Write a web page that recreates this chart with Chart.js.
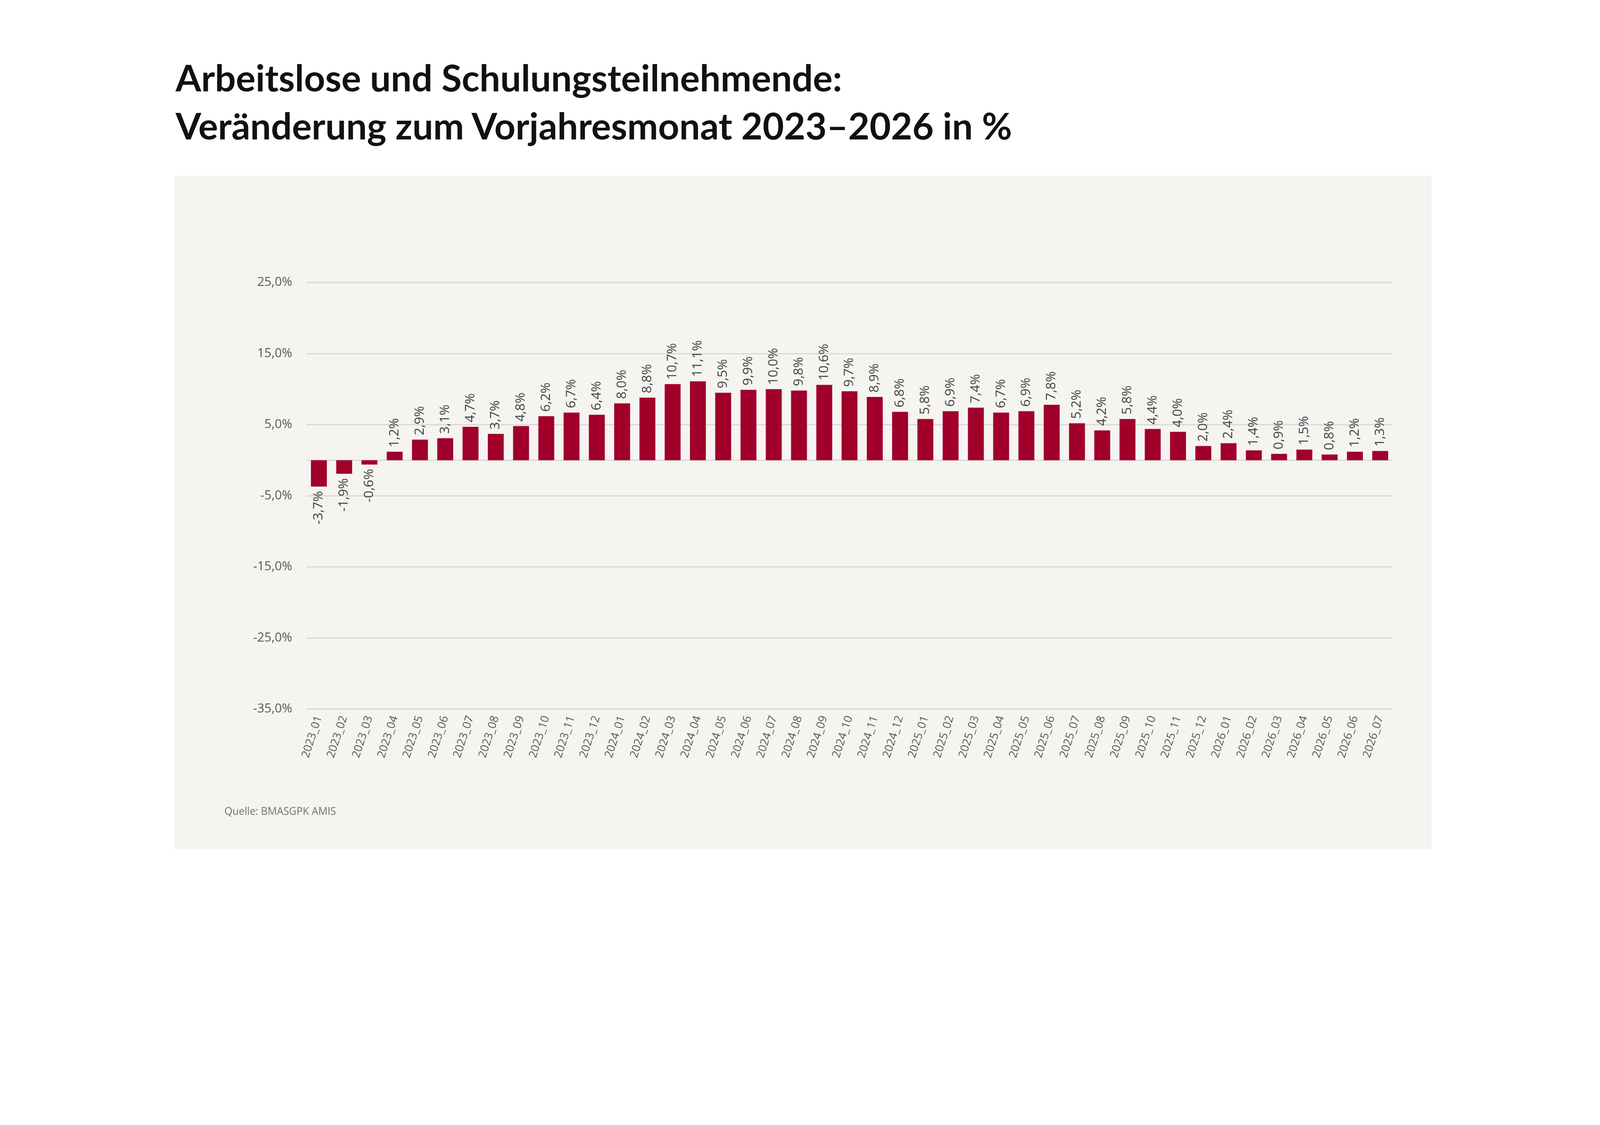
<!DOCTYPE html>
<html>
<head>
<meta charset="utf-8">
<script src="https://cdn.jsdelivr.net/npm/chart.js@4"></script>
<style>
  body { margin: 0; background: #fff; overflow: hidden; }
  #page { position: absolute; left: 0; top: 0; width: 5120px; height: 2880px; transform-origin: 0 0; }
  #title { position: absolute; left: 562px; top: 170px; font-family: Lato, sans-serif; font-weight: 700; font-size: 118px; line-height: 154px; color: #111; }
  #panel { position: absolute; left: 558px; top: 562px; width: 4023px; height: 2154px; background: #f5f4f1; }
  #wrap { position: absolute; left: 0; top: 0; width: 4023px; height: 2154px; }
  #source { position: absolute; left: 160px; top: 2010px; font-family: "Open Sans", sans-serif; font-size: 33px; color: #707070; }
</style>
</head>
<body>
<div id="page">
<div id="title">Arbeitslose und Schulungsteilnehmende:<br>Veränderung zum Vorjahresmonat 2023–2026 in %</div>
<div id="panel">
  <div id="wrap"><canvas id="chart"></canvas></div>
  <div id="source">Quelle: BMASGPK AMIS</div>
</div>
</div>
<script>
// fit the 5120-wide layout to whatever CSS viewport we get
document.getElementById("page").style.transform = "scale(" + (window.innerWidth / 5120) + ")";

const months = ["2023_01","2023_02","2023_03","2023_04","2023_05","2023_06","2023_07","2023_08","2023_09","2023_10","2023_11","2023_12",
  "2024_01","2024_02","2024_03","2024_04","2024_05","2024_06","2024_07","2024_08","2024_09","2024_10","2024_11","2024_12",
  "2025_01","2025_02","2025_03","2025_04","2025_05","2025_06","2025_07","2025_08","2025_09","2025_10","2025_11","2025_12",
  "2026_01","2026_02","2026_03","2026_04","2026_05","2026_06","2026_07"];
const changes = [-3.7,-1.9,-0.6,1.2,2.9,3.1,4.7,3.7,4.8,6.2,6.7,6.4,
  8.0,8.8,10.7,11.1,9.5,9.9,10.0,9.8,10.6,9.7,8.9,6.8,
  5.8,6.9,7.4,6.7,6.9,7.8,5.2,4.2,5.8,4.4,4.0,2.0,
  2.4,1.4,0.9,1.5,0.8,1.2,1.3];
const yTicks = [-35,-25,-15,-5,5,15,25];

function fmt(v, d) { return v.toFixed(d).replace(".", ",") + "%"; }

const barLabels = {
  id: "barLabels",
  afterDatasetsDraw(chart) {
    const ctx = chart.ctx;
    const meta = chart.getDatasetMeta(0);
    ctx.save();
    ctx.font = "42px 'Open Sans', sans-serif";
    ctx.fillStyle = "#404040";
    ctx.textBaseline = "middle";
    meta.data.forEach((bar, i) => {
      const v = changes[i];
      ctx.save();
      ctx.translate(bar.x, bar.y + (v < 0 ? 14 : -14));
      ctx.rotate(-Math.PI / 2);
      ctx.textAlign = v < 0 ? "right" : "left";
      ctx.fillText(fmt(v, 1), 0, 0);
      ctx.restore();
    });
    ctx.restore();
  }
};

new Chart("chart", {
  type: "bar",
  data: {
    labels: months,
    datasets: [{ data: changes, backgroundColor: "#a0002a", categoryPercentage: 1, barPercentage: 0.63 }]
  },
  options: {
    responsive: true,
    maintainAspectRatio: false,
    animation: false,
    layout: { padding: { top: 342, right: 124, left: 0, bottom: 0 } },
    plugins: { legend: { display: false }, tooltip: { enabled: false } },
    scales: {
      x: {
        grid: { display: false },
        border: { display: false },
        ticks: { color: "#555", font: { family: "Open Sans", size: 36 }, minRotation: 72, maxRotation: 72, autoSkip: false, padding: 8 },
        afterFit: s => { s.height = 447; }
      },
      y: {
        min: -35, max: 25,
        afterBuildTicks: s => { s.ticks = yTicks.map(v => ({ value: v })); },
        grid: { color: "#d9d9d9", lineWidth: 4, drawTicks: false },
        border: { display: false },
        ticks: { color: "#555", font: { family: "Open Sans", size: 40 }, padding: 45, callback: v => fmt(v, 1) },
        afterFit: s => { s.width = 422; }
      }
    }
  },
  plugins: [barLabels, {
    id: "zeroLine",
    beforeDatasetsDraw(chart) {
      const { ctx, chartArea, scales } = chart;
      const y = scales.y.getPixelForValue(0);
      ctx.save();
      ctx.strokeStyle = "#d9d9d9";
      ctx.lineWidth = 4;
      ctx.beginPath(); ctx.moveTo(chartArea.left, y); ctx.lineTo(chartArea.right, y); ctx.stroke();
      ctx.restore();
    }
  }]
});
</script>
</body>
</html>
